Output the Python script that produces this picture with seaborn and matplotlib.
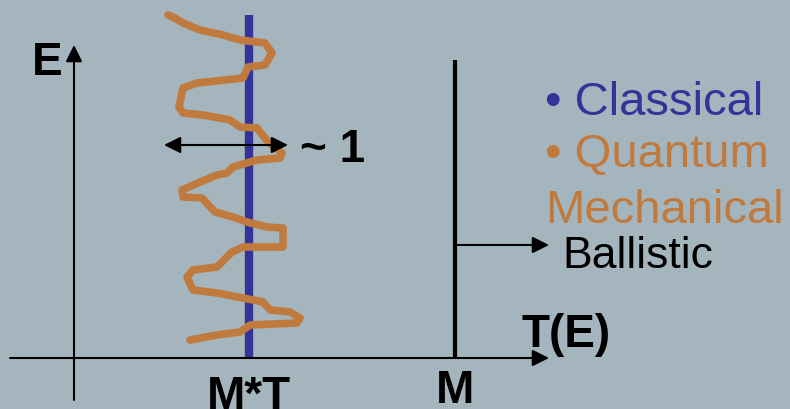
import matplotlib
matplotlib.use("Agg")
import matplotlib.pyplot as plt
from matplotlib.patches import FancyArrowPatch
import pandas as pd
import seaborn as sns

# diagram drawn in the picture's own pixel frame (x right, y down)
qm_x = [168, 175, 183, 200, 223, 240, 265, 272, 265, 248, 243, 197, 183, 179, 183, 203,
        230, 240, 257, 268, 282, 280, 257, 233, 227, 217, 200, 182, 183, 202, 215, 233,
        247, 267, 283, 283, 243, 232, 217, 193, 187, 193, 217, 243, 263, 270, 290, 300,
        297, 250, 240, 217, 190]
qm_y = [15, 18, 23, 30, 35, 40, 43, 53, 65, 67, 78, 83, 88, 107, 113, 115,
        120, 127, 128, 142, 153, 158, 160, 167, 173, 175, 182, 190, 197, 198, 212, 217,
        222, 227, 228, 247, 247, 252, 267, 270, 277, 290, 293, 298, 302, 310, 312, 318,
        323, 325, 332, 335, 340]

axis_x, axis_y = 74, 358          # E axis / T(E) axis
classical_x = 249                 # M*T
ballistic_x = 455                 # M
legend_items = ["• Classical", "• Quantum", "Mechanical"]

bg = "#a5b5bd"
blue = "#333399"
orange = "#c07a3e"

sns.set_style("white")
plt.rcParams["font.family"] = ["Liberation Sans", "DejaVu Sans"]

fig = plt.figure(figsize=(7.9, 4.09), dpi=100)
fig.patch.set_facecolor(bg)
ax = fig.add_axes([0, 0, 1, 1])
ax.set_facecolor(bg)


def arrow(p0, p1, style="-|>", lw=1.5):
    a = FancyArrowPatch(p0, p1, arrowstyle=style + ",head_length=10,head_width=5",
                        mutation_scale=1, lw=lw, color="black",
                        shrinkA=0, shrinkB=0, zorder=5)
    ax.add_patch(a)


# classical and ballistic lines
ax.plot([classical_x, classical_x], [15, axis_y], color=blue, lw=6, solid_capstyle="butt")
ax.plot([ballistic_x, ballistic_x], [60, axis_y], color="black", lw=3, solid_capstyle="butt")

# quantum wiggle
df = pd.DataFrame({"x": qm_x, "y": qm_y})
sns.lineplot(data=df, x="x", y="y", sort=False, estimator=None, color=orange,
             lw=5.5, ax=ax, solid_capstyle="round", solid_joinstyle="round")
ax.set_xlim(0, 790)
ax.set_ylim(409, 0)
ax.axis("off")

# axes
arrow((axis_x, 400), (axis_x, 45))
arrow((10, axis_y), (549, axis_y))

# ~1 double arrow and ballistic arrow
arrow((164, 145), (288, 145), style="<|-|>", lw=1.5)
arrow((ballistic_x, 245), (549, 245))

bold = dict(fontsize=33, fontweight="bold", color="black", va="baseline")
ax.text(47, 75, "E", ha="center", **bold)
ax.text(300, 162, "~ 1", ha="left", **bold)
ax.text(classical_x, 409, "M*T", ha="center", **bold)
ax.text(ballistic_x, 403, "M", ha="center", **bold)
ax.text(521, 347, "T(E)", ha="left", **bold)

ax.text(545, 115, legend_items[0], color=blue, fontsize=34, va="baseline", ha="left")
ax.text(545, 167, legend_items[1], color=orange, fontsize=34, va="baseline", ha="left")
ax.text(545, 223, legend_items[2], color=orange, fontsize=34, va="baseline", ha="left")
ax.text(562, 268, "Ballistic", color="black", fontsize=32, va="baseline", ha="left")

fig.savefig("out.png", dpi=100, facecolor=bg)
